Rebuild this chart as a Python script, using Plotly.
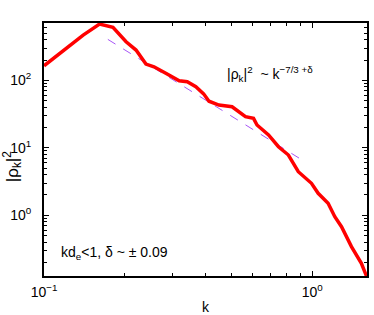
import plotly.graph_objects as go

# spectrum (log10 k, log10 |rho_k|^2)
log_k = [-1.0, -0.854, -0.793, -0.743, -0.694, -0.657, -0.620, -0.590, -0.546, -0.496,
         -0.466, -0.434, -0.405, -0.385, -0.348, -0.299, -0.249, -0.219, -0.206, -0.163,
         -0.126, -0.089, -0.052, -0.003, 0.022, 0.059, 0.084, 0.109, 0.146, 0.183, 0.204]
log_p = [2.216, 2.671, 2.834, 2.785, 2.572, 2.449, 2.241, 2.201, 2.104, 1.994,
         1.979, 1.905, 1.800, 1.690, 1.634, 1.609, 1.461, 1.437, 1.338, 1.190,
         1.016, 0.893, 0.646, 0.474, 0.326, 0.178, -0.021, -0.169, -0.465, -0.711, -0.92]
k = [10 ** v for v in log_k]
p = [10 ** v for v in log_p]

# fit line endpoints
fit_logk = [-0.762, -0.030]
fit_logp = [2.607, 0.800]
fit_k = [10 ** v for v in fit_logk]
fit_p = [10 ** v for v in fit_logp]

x_tickvals = [0.1, 1.0]
x_ticktext = ["10<sup>−1</sup>", "10<sup>0</sup>"]
y_tickvals = [1.0, 10.0, 100.0]
y_ticktext = ["10<sup>0</sup>", "10<sup>1</sup>", "10<sup>2</sup>"]
x_minor = [m * d for d in (0.1, 1.0) for m in range(2, 10)]
y_minor = [m * d for d in (0.1, 1.0, 10.0, 100.0) for m in range(2, 10)]

fig = go.Figure()
fig.add_trace(go.Scatter(x=fit_k, y=fit_p, mode="lines",
                         line=dict(color="#a855f7", width=1, dash="dash"),
                         showlegend=False))
fig.add_trace(go.Scatter(x=k, y=p, mode="lines",
                         line=dict(color="#ff0000", width=3.5),
                         showlegend=False))

font = dict(family="Liberation Sans, Arial, sans-serif", size=14, color="black")
tfont = dict(family="Liberation Sans, Arial, sans-serif", size=14, color="black")
fig.update_layout(
    width=374, height=315,
    margin=dict(l=44, r=5, t=23, b=39),
    paper_bgcolor="white", plot_bgcolor="white",
    font=font,
    xaxis=dict(type="log", range=[-1.0, 0.204], tickvals=x_tickvals, ticktext=x_ticktext,
               tickfont=tfont, ticklabelstandoff=2,
               ticks="inside", ticklen=5, tickwidth=1, tickcolor="black",
               showline=True, linewidth=2, linecolor="black", mirror="allticks",
               showgrid=False, zeroline=False,
               minor=dict(tickvals=x_minor, ticks="inside", ticklen=3, tickcolor="black", showgrid=False)),
    yaxis=dict(type="log", range=[-0.9, 2.85], tickvals=y_tickvals, ticktext=y_ticktext,
               tickfont=tfont, ticklabelstandoff=8,
               ticks="inside", ticklen=5, tickwidth=1, tickcolor="black",
               showline=True, linewidth=2, linecolor="black", mirror="allticks",
               showgrid=False, zeroline=False,
               minor=dict(tickvals=y_minor, ticks="inside", ticklen=3, tickcolor="black", showgrid=False)),
)
fig.add_annotation(xref="paper", yref="paper", x=0, y=0.43, xanchor="center", yanchor="middle",
                   xshift=-32, textangle=-90,
                   text="|ρ<sub>k</sub>|<sup>2</sup>",
                   showarrow=False, font=dict(family="Liberation Sans, Arial, sans-serif", size=17, color="black"))
fig.add_annotation(xref="paper", yref="paper", x=0.5, y=0, xanchor="center", yanchor="top",
                   yshift=-21, text="k", showarrow=False, font=font)
fig.add_annotation(xref="paper", yref="paper", x=0.56, y=0.80, xanchor="left", yanchor="middle",
                   text="|ρ<sub>k</sub>|<sup>2</sup>  ~ k<sup>−7/3 +δ</sup>", showarrow=False, font=font)
fig.add_annotation(xref="paper", yref="paper", x=0.045, y=0.09, xanchor="left", yanchor="middle",
                   text="kd<sub>e</sub><1, δ ~ ± 0.09", showarrow=False, font=font)
fig.write_html("out.html", config={"displayModeBar": False},
               post_script="document.body.style.margin='0';document.body.style.overflow='hidden';")
